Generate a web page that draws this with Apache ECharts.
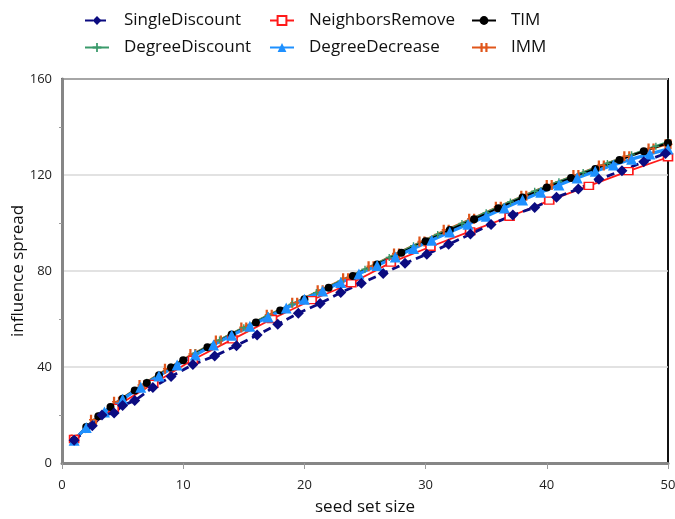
<!DOCTYPE html>
<html>
<head>
<meta charset="utf-8">
<script src="https://cdn.jsdelivr.net/npm/echarts@6/dist/echarts.min.js"></script>
<style>
  html, body { margin: 0; padding: 0; background: #fff; }
  #chart { width: 675px; height: 519px; }
</style>
</head>
<body>
<div id="chart"></div>
<script>
// values
const singleX = [1, 2.5, 3.3, 4.3, 5, 6, 7.5, 9, 10.8, 12.6, 14.4, 16.1, 17.8, 19.5, 21.3, 23, 24.7, 26.5, 28.3, 30.1, 31.9, 33.7, 35.4, 37.2, 39, 40.8, 42.6, 44.3, 46.2, 48, 49.8];
const singleY = [9.5, 15.5, 20, 20.8, 24, 26, 31.5, 36, 41, 44.6, 48.9, 53.3, 57.8, 62.4, 66.5, 71, 74.9, 79, 83.2, 87, 91.1, 95.4, 99.4, 103.3, 106.5, 110.7, 114.2, 118.2, 121.8, 125.5, 129];

const neighX = [1, 4.27, 7.53, 10.8, 14.07, 17.33, 20.6, 23.87, 27.13, 30.4, 33.67, 36.93, 40.2, 43.47, 46.73, 50];
const neighY = [10, 23, 33, 43, 51.5, 60, 67.9, 74.9, 83.5, 90.1, 96.5, 102.6, 109.3, 115.5, 121.6, 127.4];

const timX = [1, 2, 3, 4, 5, 6, 7, 8, 9, 10, 12, 14, 16, 18, 20, 22, 24, 26, 28, 30, 32, 34, 36, 38, 40, 42, 44, 46, 48, 50];
const timY = [9.5, 15, 19.5, 23.3, 26.8, 30.2, 33.3, 36.6, 39.8, 42.8, 48.2, 53.5, 58.5, 63.5, 68.2, 73, 77.9, 82.7, 87.6, 92.4, 97.1, 101.6, 106.1, 110.6, 114.8, 118.7, 122.5, 126.3, 129.9, 133.3];

const ddiscX = [1, 3, 5, 7, 9, 11, 13, 15, 17, 19, 21, 23, 25, 27, 29, 31, 33, 35, 37, 39, 41, 43, 45, 47, 49, 50];
const ddiscY = [9.5, 19.6, 27, 33.6, 40, 45.8, 51.2, 56.4, 61.4, 66.2, 71, 75.8, 80.7, 85.6, 90.5, 95.2, 99.8, 104.3, 108.8, 113.2, 117.2, 121, 124.8, 128.4, 132, 133.7];

const ddecX = [1, 2, 3.5, 5, 6.5, 8, 9.5, 11, 12.5, 14, 15.5, 17, 18.5, 20, 21.5, 23, 24.5, 26, 27.5, 29, 30.5, 32, 33.5, 35, 36.5, 38, 39.5, 41, 42.5, 44, 45.5, 47, 48.5, 50];
const ddecY = [9.5, 14.8, 21.3, 26.6, 31.6, 36.3, 40.8, 45, 49.2, 53.2, 57, 60.8, 64.6, 68.2, 71.7, 75.2, 78.8, 82.3, 85.8, 89.4, 92.8, 96.2, 99.5, 102.8, 106.2, 109.6, 112.8, 115.8, 118.8, 121.6, 124.2, 126.6, 128.8, 130.8];

const immX = [1, 2.6, 4.5, 6.6, 8.7, 10.8, 12.9, 15, 17.1, 19.2, 21.3, 23.4, 25.5, 27.6, 29.7, 31.7, 33.8, 36, 38.1, 40.2, 42.4, 44.5, 46.6, 48.6, 50];
const immY = [9.8, 18, 25.5, 32.5, 39.3, 45.4, 51, 56.5, 61.8, 66.8, 72, 77, 82, 87.3, 92.3, 97.2, 101.8, 106.8, 111.4, 115.8, 120, 124, 127.8, 131, 132.8];

const yTicks = [0, 40, 80, 120, 160];
const xTicks = [0, 10, 20, 30, 40, 50];

const pairs = (xs, ys) => xs.map((x, i) => [x, ys[i]]);

const FONT = '"Open Sans", "Liberation Sans", sans-serif';
const plusPath = 'path://M4,0H6V4H10V6H6V10H4V6H0V4H4Z';
const barsPath = 'path://M1,0H3.5V10H1ZM6.5,0H9V10H6.5ZM0,4.2H10V5.8H0Z';

const chart = echarts.init(document.getElementById('chart'), null, { renderer: 'canvas' });

const legendText = { fontFamily: FONT, fontSize: 17, color: '#111', padding: [0, 0, 0, 10] };
const legendBase = {
  orient: 'vertical', top: 7, itemGap: 10, itemWidth: 24, itemHeight: 11,
  textStyle: legendText, selectedMode: false
};

const option = {
  animation: false,
  backgroundColor: '#fff',
  legend: [
    Object.assign({}, legendBase, { left: 79, data: ['SingleDiscount', 'DegreeDiscount'] }),
    Object.assign({}, legendBase, { left: 264, data: ['NeighborsRemove', 'DegreeDecrease'] }),
    Object.assign({}, legendBase, { left: 466, data: ['TIM', 'IMM'] })
  ],
  grid: {
    left: 62, right: 7, top: 79, bottom: 56,
    outerBoundsMode: 'none',
    show: true, borderColor: '#111', borderWidth: 2, backgroundColor: '#fff'
  },
  xAxis: {
    type: 'value', min: 0, max: 50, interval: 10,
    name: 'seed set size', nameLocation: 'middle', nameGap: 36, nameMoveOverlap: false,
    nameTextStyle: { fontFamily: FONT, fontSize: 17, color: '#111' },
    axisLine: { lineStyle: { color: '#868686', width: 3 } },
    axisTick: { show: true, length: 6, lineStyle: { color: '#9a9a9a' } },
    axisLabel: {
      fontFamily: FONT, fontSize: 13, color: '#222', margin: 16,
      formatter: v => xTicks.includes(v) ? String(v) : ''
    },
    splitLine: { show: false }
  },
  yAxis: {
    type: 'value', min: 0, max: 160, interval: 40,
    name: 'influence spread', nameLocation: 'middle', nameGap: 35, nameRotate: 90, nameMoveOverlap: false,
    nameTextStyle: { fontFamily: FONT, fontSize: 17, color: '#111' },
    axisLine: { show: true, lineStyle: { color: '#868686', width: 3 } },
    axisTick: { show: false },
    minorTick: { show: true, splitNumber: 2, length: 3, lineStyle: { color: '#9a9a9a' } },
    axisLabel: {
      fontFamily: FONT, fontSize: 13, color: '#222', margin: 10,
      formatter: v => yTicks.includes(v) ? String(v) : ''
    },
    splitLine: { show: true, lineStyle: { color: '#d9d9d9', width: 1.5 } }
  },
  series: [
    {
      name: 'IMM', type: 'line', data: pairs(immX, immY),
      symbol: barsPath, symbolSize: [9, 10],
      itemStyle: { color: '#E0561B' },
      lineStyle: { color: '#E0561B', width: 2.2 }
    },
    {
      name: 'NeighborsRemove', type: 'line', data: pairs(neighX, neighY),
      symbol: 'rect', symbolSize: [9, 7],
      itemStyle: { color: '#fff', borderColor: '#FF1A1A', borderWidth: 1.5 },
      lineStyle: { color: '#FF1A1A', width: 1.8 }
    },
    {
      name: 'DegreeDiscount', type: 'line', data: pairs(ddiscX, ddiscY),
      symbol: plusPath, symbolSize: 7,
      itemStyle: { color: '#3A9A6B' },
      lineStyle: { color: '#3A9A6B', width: 2.4 }
    },
    {
      name: 'TIM', type: 'line', data: pairs(timX, timY),
      symbol: 'circle', symbolSize: 8,
      itemStyle: { color: '#000' },
      lineStyle: { color: '#000', width: 2.2 }
    },
    {
      name: 'DegreeDecrease', type: 'line', data: pairs(ddecX, ddecY),
      symbol: 'triangle', symbolSize: 11,
      itemStyle: { color: '#1E90FF' },
      lineStyle: { color: '#1E90FF', width: 3.2 }
    },
    {
      name: 'SingleDiscount', type: 'line', data: pairs(singleX, singleY),
      symbol: 'diamond', symbolSize: 11,
      itemStyle: { color: '#0B0B80' },
      lineStyle: { color: '#0B0B80', width: 2.8, type: [8, 5] }
    }
  ]
};

chart.setOption(option);
</script>
</body>
</html>
